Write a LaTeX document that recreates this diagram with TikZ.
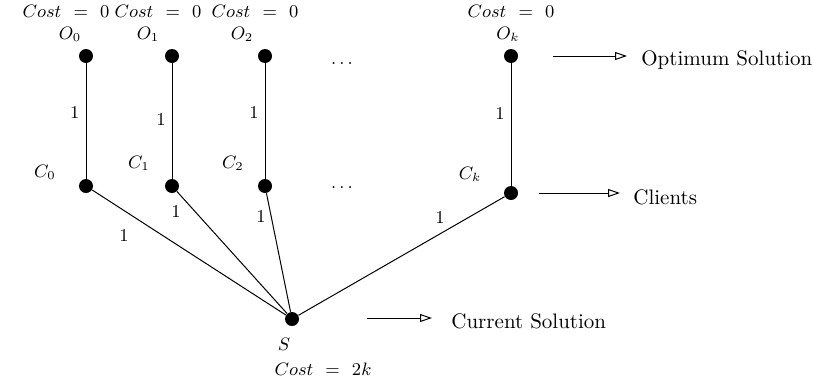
\documentclass[tikz,border=0pt]{standalone}
\usetikzlibrary{arrows.meta}
\newcommand{\costeq}[1]{$Cost\hspace{3.5pt}=\hspace{3.5pt}#1$}
\begin{document}
\begin{tikzpicture}[x=0.5pt,y=-0.5pt,
  dot/.style={circle,fill=black,inner sep=0pt,minimum size=7pt},
  lbl/.style={inner sep=1pt,font=\fontsize{9}{11}\selectfont},
  txt/.style={inner sep=1pt,anchor=west,font=\fontsize{10.5}{12}\selectfont},
  ptr/.style={-{Triangle[open,length=6pt,width=4pt]},line width=0.5pt},
  edge/.style={line width=0.5pt}]
\useasboundingbox (0,0) rectangle (813,386);
% nodes
\node[dot] (O0) at (86,56) {};
\node[dot] (O1) at (172,56) {};
\node[dot] (O2) at (265,56) {};
\node[dot] (Ok) at (511,56) {};
\node[dot] (C0) at (86,186) {};
\node[dot] (C1) at (172,186) {};
\node[dot] (C2) at (265,186) {};
\node[dot] (Ck) at (511,193) {};
\node[dot] (S) at (292,319) {};
% top labels
\node[lbl] (k0) at (66,11) {\costeq{0}};
\node[lbl] (k1) at (158,11) {\costeq{0}};
\node[lbl] (k2) at (255,11) {\costeq{0}};
\node[lbl] (kk) at (511,11) {\costeq{0}};
\node[lbl] (lO0) at (70,34) {$O_0$};
\node[lbl] (lO1) at (148,34) {$O_1$};
\node[lbl] (lO2) at (242,34) {$O_2$};
\node[lbl] (lOk) at (508,34) {$O_k$};
\node[lbl] (lC0) at (45,172) {$C_0$};
\node[lbl] (lC1) at (139,163) {$C_1$};
\node[lbl] (lC2) at (233,163) {$C_2$};
\node[lbl] (lCk) at (470,174) {$C_k$};
\node[lbl] (lS) at (284,344) {$S$};
\node[lbl] (kS) at (323,369) {\costeq{2k}};
% dots
\node[lbl] (d1) at (342,64) {$\ldots$};
\node[lbl] (d2) at (342,188) {$\ldots$};
% edges
\draw[edge] (O0) -- node[lbl,left=2pt,pos=0.43] {1} (C0);
\draw[edge] (O1) -- node[lbl,left=2pt,pos=0.49] {1} (C1);
\draw[edge] (O2) -- node[lbl,left=2pt,pos=0.43] {1} (C2);
\draw[edge] (Ok) -- node[lbl,left=2pt,pos=0.41] {1} (Ck);
\draw[edge] (C0) -- (S);
\draw[edge] (C1) -- (S);
\draw[edge] (C2) -- (S);
\draw[edge] (Ck) -- (S);
\node[lbl] (e0) at (124,236) {1};
\node[lbl] (e1) at (176,212) {1};
\node[lbl] (e2) at (261,217) {1};
\node[lbl] (ek) at (440,218) {1};
% legend
\coordinate (a1) at (553,56);
\coordinate (a2) at (539,193);
\coordinate (a3) at (367,318);
\node[txt] (t1) at (639,60) {Optimum Solution};
\node[txt] (t2) at (631,197) {Clients};
\node[txt] (t3) at (449,321) {Current Solution};
\draw[ptr] (a1) -- (627,56);
\draw[ptr] (a2) -- (620,193);
\draw[ptr] (a3) -- (432,318);
\end{tikzpicture}
\end{document}
